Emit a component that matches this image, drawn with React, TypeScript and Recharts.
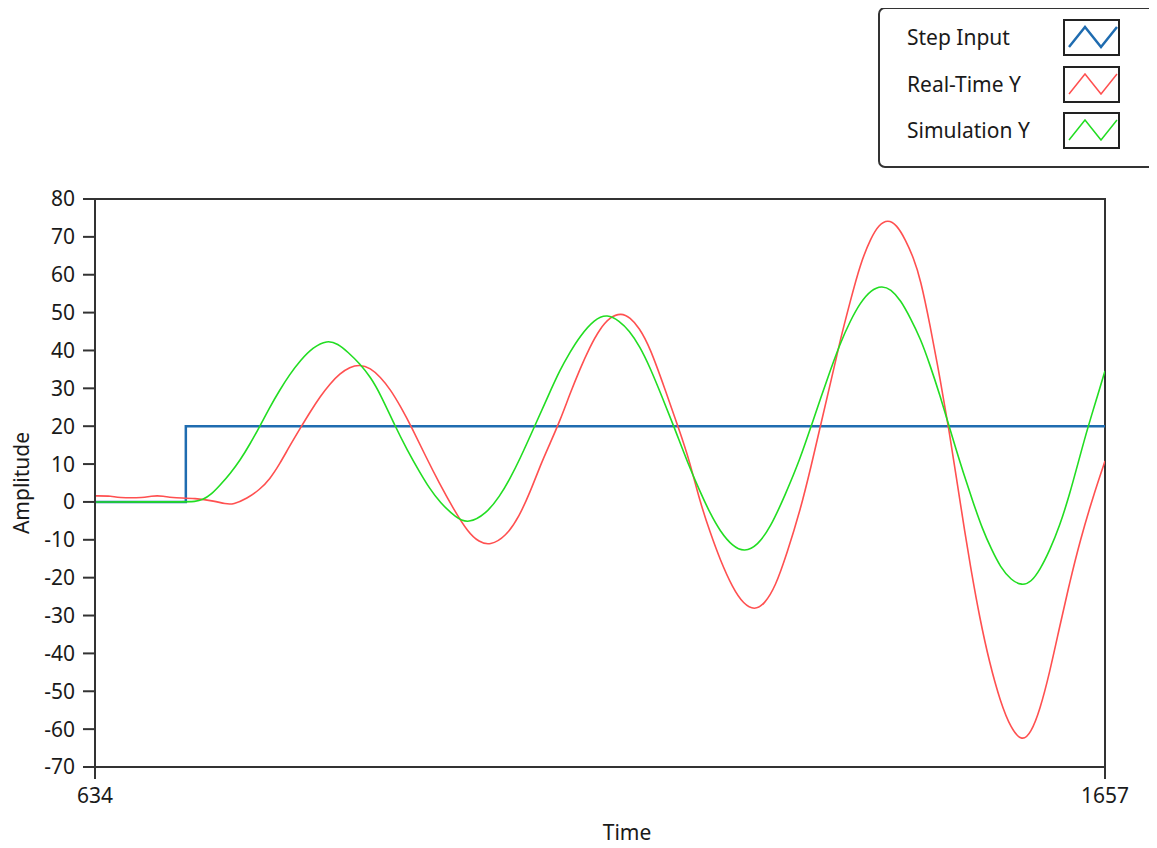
import React from 'react';
import { LineChart, Line, XAxis, YAxis, Legend, ReferenceArea } from 'recharts';

const FONT = '"Noto Sans", "DejaVu Sans", sans-serif';

const seriesNames = ['Step Input', 'Real-Time Y', 'Simulation Y'];
const seriesColors = ['#1f6cb0', '#ff5050', '#22dd22'];

const xTicks = [634, 1657];
const yTicks = [-70, -60, -50, -40, -30, -20, -10, 0, 10, 20, 30, 40, 50, 60, 70, 80];

const stepTime = [634, 726, 1657];
const stepValue = [0, 20, 20];

const realTime = [634, 652, 656, 685, 689, 705, 709, 737, 755, 766, 774, 788, 801, 811, 821, 831, 842, 852, 862, 872, 882, 892, 902, 913, 923, 933, 944, 955, 969, 983, 997, 1012, 1023, 1034, 1050, 1064, 1075, 1085, 1095, 1105, 1115, 1125, 1135, 1145, 1156, 1167, 1176, 1185, 1196, 1211, 1226, 1236, 1247, 1257, 1267, 1280, 1291, 1302, 1312, 1323, 1335, 1348, 1359, 1370, 1380, 1389, 1399, 1409, 1420, 1428, 1437, 1446, 1455, 1463, 1470, 1480, 1490, 1499, 1507, 1515, 1522, 1530, 1540, 1551, 1562, 1573, 1582, 1591, 1601, 1611, 1621, 1632, 1645, 1657];
const realValue = [1.6, 1.6, 1.1, 1.1, 1.6, 1.6, 1.1, 1.0, 0.2, -0.5, -0.7, 0.9, 3.3, 6, 10, 14.7, 19.5, 23.8, 27.8, 31.2, 33.9, 35.6, 36.3, 35.4, 33, 29.8, 25, 19.6, 12, 4.8, -1.8, -8.1, -10.6, -11.5, -9.2, -3.7, 2.8, 9.6, 15.5, 21.5, 28.5, 35, 40.8, 45.6, 48.9, 49.9, 48.7, 46.1, 40.9, 30, 18.8, 11, -0.2, -8, -15.2, -22.8, -27, -28.6, -27, -22.5, -13.5, -2.5, 9, 21.5, 32.5, 43, 53, 62.8, 69.8, 73.2, 74.6, 73.2, 69.2, 64.5, 59, 46.5, 32.5, 19, 5.5, -8, -19, -30.5, -42.5, -52.8, -60, -63.3, -61, -55, -45, -33, -21.5, -10, 1.5, 10.8];

const simTime = [634, 726, 735, 743, 752, 761, 771, 781, 791, 801, 811, 821, 831, 842, 855, 869, 880, 890, 902, 913, 923, 938, 950, 963, 973, 983, 1000, 1012, 1030, 1044, 1054, 1064, 1080, 1093, 1105, 1115, 1125, 1140, 1153, 1165, 1175, 1186, 1196, 1208, 1221, 1234, 1247, 1257, 1267, 1280, 1292, 1305, 1318, 1333, 1348, 1360, 1375, 1389, 1399, 1409, 1420, 1431, 1440, 1450, 1460, 1470, 1480, 1490, 1499, 1506, 1513, 1523, 1533, 1542, 1551, 1562, 1573, 1582, 1591, 1601, 1611, 1621, 1632, 1640, 1648, 1657];
const simValue = [0, 0, 0.1, 0.5, 2, 4.5, 7.5, 11, 15.3, 20, 25, 29.5, 33.6, 37.4, 40.9, 42.7, 41.8, 39.6, 36.6, 33, 28.5, 20, 13.8, 7.8, 3.5, 0, -4.3, -5.7, -3.2, 1.5, 6, 11.1, 20.4, 28, 34.9, 39.5, 43.7, 48.3, 49.6, 47.8, 45.3, 41, 35.6, 28, 19.5, 10.5, 2.6, -3, -7.7, -11.8, -13.2, -11.5, -6.8, 1.8, 11.2, 20.5, 32, 42.1, 47.8, 52.6, 56, 57.1, 56.2, 53.3, 48.5, 43.2, 36, 28, 20.1, 14, 8.1, 0.2, -7.3, -12.5, -17.2, -20.7, -22.1, -21.2, -18, -12.8, -6.4, 1.8, 12.5, 20, 26.8, 34.6];

const zip = (xs: number[], ys: number[]) => xs.map((t, i) => ({ t, v: ys[i] }));
const stepData = zip(stepTime, stepValue);
const realData = zip(realTime, realValue);
const simData = zip(simTime, simValue);

const LegendBox = (props: any) => {
  const payload = [...(props.payload || [])].sort(
    (a: any, b: any) => seriesNames.indexOf(a.value) - seriesNames.indexOf(b.value)
  );
  return (
    <div
      style={{
        position: 'relative',
        width: 278,
        height: 161,
        boxSizing: 'border-box',
        border: '2px solid #333',
        borderRadius: 7,
        background: '#fff',
        fontFamily: FONT,
        fontSize: 21,
        color: '#1a1a1a',
      }}
    >
      {payload.map((p: any, i: number) => (
        <div key={p.value} style={{ position: 'absolute', left: 0, top: 10 + i * 46.5, width: 274, height: 37 }}>
          <span style={{ position: 'absolute', left: 27, top: 0, lineHeight: '37px', whiteSpace: 'nowrap' }}>{p.value}</span>
          <svg width={57} height={37} style={{ position: 'absolute', left: 183, top: 0 }}>
            <rect x={1} y={1} width={55} height={35} fill="#fff" stroke="#222" strokeWidth={2} />
            <polyline points="6,28 22,8 38,28 54,8" fill="none" stroke={p.color} strokeWidth={i === 0 ? 2.5 : 1.5} />
          </svg>
        </div>
      ))}
    </div>
  );
};

export default function App() {
  const tickStyle = { fill: '#1a1a1a', fontSize: 21, fontFamily: FONT };
  return (
    <LineChart width={1149} height={840} margin={{ top: 191, right: 52, bottom: 0, left: 0 }}>
      <XAxis
        dataKey="t"
        type="number"
        domain={[634, 1657]}
        ticks={xTicks}
        allowDataOverflow
        height={81}
        tickSize={12}
        tickMargin={9}
        tick={tickStyle}
        axisLine={{ stroke: '#333', strokeWidth: 2 }}
        tickLine={{ stroke: '#333', strokeWidth: 2 }}
        label={{ value: 'Time', position: 'insideBottom', offset: 8, dx: 27, fill: '#1a1a1a', fontSize: 21, fontFamily: FONT }}
      />
      <YAxis
        dataKey="v"
        type="number"
        domain={[-70, 80]}
        ticks={yTicks}
        allowDataOverflow
        interval={0}
        width={87}
        tickSize={12}
        tickMargin={8}
        tick={tickStyle}
        axisLine={{ stroke: '#333', strokeWidth: 2 }}
        tickLine={{ stroke: '#333', strokeWidth: 2 }}
        label={{ value: 'Amplitude', angle: -90, position: 'insideLeft', offset: 14, style: { textAnchor: 'middle' }, fill: '#1a1a1a', fontSize: 21, fontFamily: FONT }}
      />
      <Legend
        layout="vertical"
        align="center"
        verticalAlign="middle"
        content={LegendBox}
        wrapperStyle={{ top: -1, left: 870, width: 278, height: 161 }}
      />
      <Line data={stepData} dataKey="v" name={seriesNames[0]} type="stepAfter" stroke={seriesColors[0]} strokeWidth={2.5} dot={false} activeDot={false} isAnimationActive={false} />
      <Line data={realData} dataKey="v" name={seriesNames[1]} type="basis" stroke={seriesColors[1]} strokeWidth={1.6} dot={false} activeDot={false} isAnimationActive={false} />
      <Line data={simData} dataKey="v" name={seriesNames[2]} type="basis" stroke={seriesColors[2]} strokeWidth={1.6} dot={false} activeDot={false} isAnimationActive={false} />
      <ReferenceArea x1={634} x2={1657} y1={-70} y2={80} fill="none" stroke="#333" strokeWidth={2} ifOverflow="visible" />
    </LineChart>
  );
}
